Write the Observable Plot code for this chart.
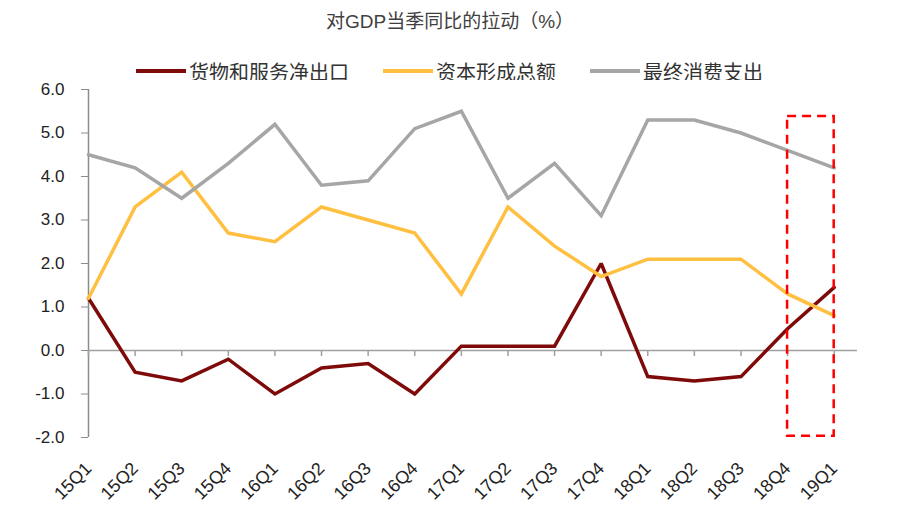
<!DOCTYPE html>
<html>
<head>
<meta charset="utf-8">
<script src="https://cdn.jsdelivr.net/npm/d3@7"></script>
<script src="https://cdn.jsdelivr.net/npm/@observablehq/plot@0.6"></script>
<style>
  body { margin: 0; background: #fff; width: 912px; height: 505px; position: relative; overflow: hidden; }
  #title { position: absolute; left: 0; top: 9px; width: 900px; text-align: center; font: 19px "Liberation Sans", "Noto Sans CJK SC", sans-serif; color: #404040; line-height: 26px; }
  #legend { position: absolute; left: 136px; top: 58px; height: 26px; display: flex; align-items: center; font: 20px "Noto Sans CJK SC", sans-serif; color: #333; }
  .item { display: flex; align-items: center; }
  .sw { width: 50px; height: 4px; margin-right: 3px; }
  #chart { position: absolute; left: 0; top: 80px; }
</style>
</head>
<body>
<div id="title">对GDP当季同比的拉动（%）</div>
<div id="legend"></div>
<div id="chart"></div>
<script>
const quarters = ["15Q1","15Q2","15Q3","15Q4","16Q1","16Q2","16Q3","16Q4","17Q1","17Q2","17Q3","17Q4","18Q1","18Q2","18Q3","18Q4","19Q1"];
const seriesNames = ["货物和服务净出口", "资本形成总额", "最终消费支出"];
const netExports = [1.2, -0.5, -0.7, -0.2, -1.0, -0.4, -0.3, -1.0, 0.1, 0.1, 0.1, 2.0, -0.6, -0.7, -0.6, 0.5, 1.45];
const capitalFormation = [1.2, 3.3, 4.1, 2.7, 2.5, 3.3, 3.0, 2.7, 1.3, 3.3, 2.4, 1.7, 2.1, 2.1, 2.1, 1.3, 0.8];
const consumption = [4.5, 4.2, 3.5, 4.3, 5.2, 3.8, 3.9, 5.1, 5.5, 3.5, 4.3, 3.1, 5.3, 5.3, 5.0, 4.6, 4.2];
const seriesColors = ["#7f0a0a", "#ffbf40", "#a6a6a6"];
const yTicks = [-2, -1, 0, 1, 2, 3, 4, 5, 6];
const highlightQuarters = ["18Q4", "19Q1"];
const highlightRange = [-1.97, 5.38];

const allSeries = [netExports, capitalFormation, consumption];
const rows = [];
allSeries.forEach((vals, s) => vals.forEach((v, i) => rows.push({q: quarters[i], v, s: seriesNames[s]})));

const legend = document.getElementById("legend");
seriesNames.forEach((n, i) => {
  const it = document.createElement("div");
  it.className = "item";
  it.style.marginRight = i < 2 ? "34px" : "0";
  it.innerHTML = `<span class="sw" style="background:${seriesColors[i]}"></span><span>${n}</span>`;
  legend.appendChild(it);
});

const chart = Plot.plot({
  width: 912,
  height: 425,
  marginLeft: 88,
  marginRight: 55,
  marginTop: 9,
  marginBottom: 68,
  style: { fontFamily: "'Liberation Sans', Arial, sans-serif", fontSize: "17px", color: "#222", background: "#fff" },
  x: { type: "point", domain: quarters, padding: 0.25, align: 0, round: false },
  y: { domain: [-2, 6] },
  color: { domain: seriesNames, range: seriesColors },
  marks: [
    Plot.ruleX([quarters[0]], { stroke: "#8c8c8c", strokeWidth: 1.5 }),
    Plot.ruleY([0], { stroke: "#a0a0a0", strokeWidth: 1.5 }),
    Plot.ruleX(quarters, { y1: 0, y2: -0.14, stroke: "#a0a0a0", strokeWidth: 1.5 }),
    Plot.axisY({ ticks: yTicks, tickFormat: d => d.toFixed(1), tickSize: 7, tickPadding: 17, stroke: "#8c8c8c", fontSize: 17, label: null }),
    Plot.axisX({ tickRotate: -45, tickSize: 0, tickPadding: 28, fontSize: 18, label: null }),
    Plot.lineY(rows, { x: "q", y: "v", z: "s", stroke: "s", strokeWidth: 3.5, strokeLinejoin: "miter", strokeMiterlimit: 2 }),
    Plot.rect([{}], { x1: () => highlightQuarters[0], x2: () => highlightQuarters[1], y1: () => highlightRange[0], y2: () => highlightRange[1], fill: "none", stroke: "#ff0000", strokeWidth: 2.5, strokeDasharray: "9,6" })
  ]
});
document.getElementById("chart").appendChild(chart);
</script>
</body>
</html>
